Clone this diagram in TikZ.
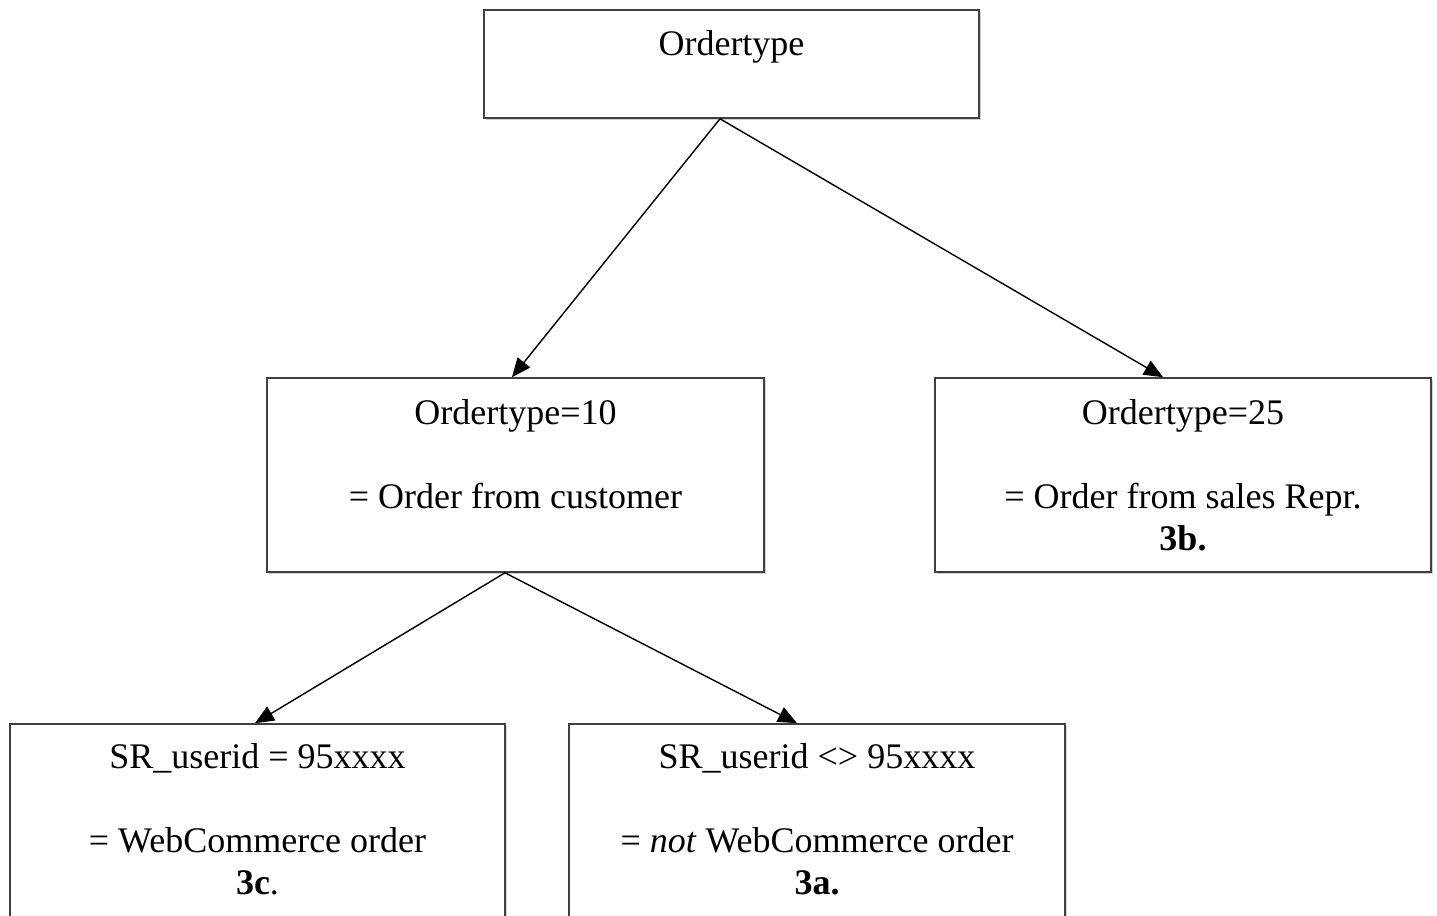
\documentclass[tikz,border=0pt]{standalone}
\usepackage{fontspec}
\setmainfont{Liberation Serif}
\usetikzlibrary{arrows.meta,shadows}

\begin{document}
\begin{tikzpicture}[x=0.5pt, y=-0.5pt,
            box/.style={rectangle, draw=black!75, line width=0.8pt, fill=white,
                align=center, inner sep=0pt, font=\fontsize{18}{21}\selectfont,
                drop shadow={shadow xshift=0.8pt, shadow yshift=-0.8pt, fill=black!30, opacity=0.6}},
            link/.style={-{Triangle[length=9.5pt, width=8pt]}, line width=0.7pt}]
            \useasboundingbox (0,0) rectangle (1437,916);

            \node[box, minimum width=247.5pt, minimum height=54pt] (ot) at (731.5,64) {Ordertype\\\mbox{}};

            \node[box, minimum width=248.5pt, minimum height=97pt] (ot10) at (515.5,475)
                {Ordertype=10\\[21pt]= Order from customer\\\phantom{3b.}};
            \node[box, minimum width=248pt, minimum height=97pt] (ot25) at (1183,475)
                {Ordertype=25\\[21pt]= Order from sales Repr.\\\textbf{3b.}};

            \node[box, minimum width=247.5pt, minimum height=99.5pt] (web) at (257.5,823.5)
                {SR\_userid = 95xxxx\\[21pt]= WebCommerce order\\\textbf{3c}.\\[-17pt]\mbox{}};
            \node[box, minimum width=248pt, minimum height=99.5pt] (noweb) at (817,823.5)
                {SR\_userid <> 95xxxx\\[21pt]= \textit{not} WebCommerce order\\\textbf{3a.}\\[-17pt]\mbox{}};

            \draw[link] ([xshift=-5.75pt]ot.south) -- ([xshift=-1.75pt]ot10.north);
            \draw[link] ([xshift=-5.75pt]ot.south) -- ([xshift=-10pt]ot25.north);
            \draw[link] ([xshift=-5.25pt]ot10.south) -- ([xshift=-1.25pt]web.north);
            \draw[link] ([xshift=-5.25pt]ot10.south) -- ([xshift=-10pt]noweb.north);
        \end{tikzpicture}
\end{document}
